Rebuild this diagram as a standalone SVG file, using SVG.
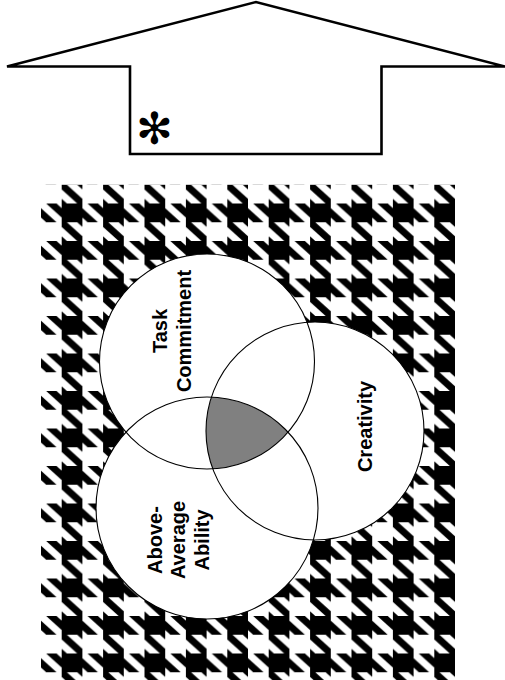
<svg xmlns="http://www.w3.org/2000/svg" width="505" height="680" viewBox="0 0 505 680">
<style>
.lbl{font-family:"Liberation Sans",Arial,Helvetica,sans-serif;font-weight:bold;font-size:20px;fill:#000;text-anchor:middle}
.disc{fill:#fff;stroke:none}
.ring{fill:none;stroke:#000;stroke-width:1.1}
.blk{fill:#000}
</style>
<defs>
<pattern id="hound" patternUnits="userSpaceOnUse" x="41" y="203.5" width="41.4" height="37.5">
<g transform="scale(5.175,4.6875)" class="blk">
<rect x="4" y="0" width="4" height="4"/>
<polygon points="0,1 3,4 1,4 0,3"/>
<polygon points="1,0 3,0 4,1 4,3"/>
<polygon points="4,4 5,4 8,7 8,8 7,8 4,5"/>
<polygon points="4,7 5,8 4,8"/>
<polygon points="7,4 8,4 8,5"/>
</g>
</pattern>
<clipPath id="cTask"><circle cx="207" cy="361.5" r="107.5"/></clipPath>
<clipPath id="cCre"><circle cx="315" cy="431" r="109"/></clipPath>
</defs>
<rect width="505" height="680" fill="#fff"/>
<g id="arrow">
<polygon points="7,66.5 256,2 505,66.5 381.5,66.5 381.5,154 130,154 130,66.5" fill="#fff" stroke="#000" stroke-width="2.6" stroke-linejoin="miter"/>
<text x="154.5" y="128" font-family="'DejaVu Sans',sans-serif" font-size="44" text-anchor="middle" dominant-baseline="central">✻</text>
</g>
<g id="houndstooth">
<rect x="41" y="184.8" width="414" height="495.2" fill="url(#hound)"/>
</g>
<g id="discs">
<circle class="disc" cx="207" cy="361.5" r="107.5"/>
<circle class="disc" cx="315" cy="431" r="109"/>
<circle class="disc" cx="207" cy="508" r="111"/>
</g>
<g id="overlap">
<g clip-path="url(#cTask)"><g clip-path="url(#cCre)"><circle cx="207" cy="508" r="111" fill="#808080"/></g></g>
</g>
<g id="task-commitment">
<circle class="ring" cx="207" cy="361.5" r="107.5"/>
<text class="lbl" transform="translate(167,331) rotate(-90)">Task</text>
<text class="lbl" transform="translate(191,331) rotate(-90)">Commitment</text>
</g>
<g id="creativity">
<circle class="ring" cx="315" cy="431" r="109"/>
<text class="lbl" transform="translate(371.5,426.5) rotate(-90)">Creativity</text>
</g>
<g id="above-average-ability">
<circle class="ring" cx="207" cy="508" r="111"/>
<text class="lbl" transform="translate(161.5,540) rotate(-90)">Above-</text>
<text class="lbl" transform="translate(185,540) rotate(-90)">Average</text>
<text class="lbl" transform="translate(208.5,540) rotate(-90)">Ability</text>
</g>
<g id="connectors"></g>
</svg>
